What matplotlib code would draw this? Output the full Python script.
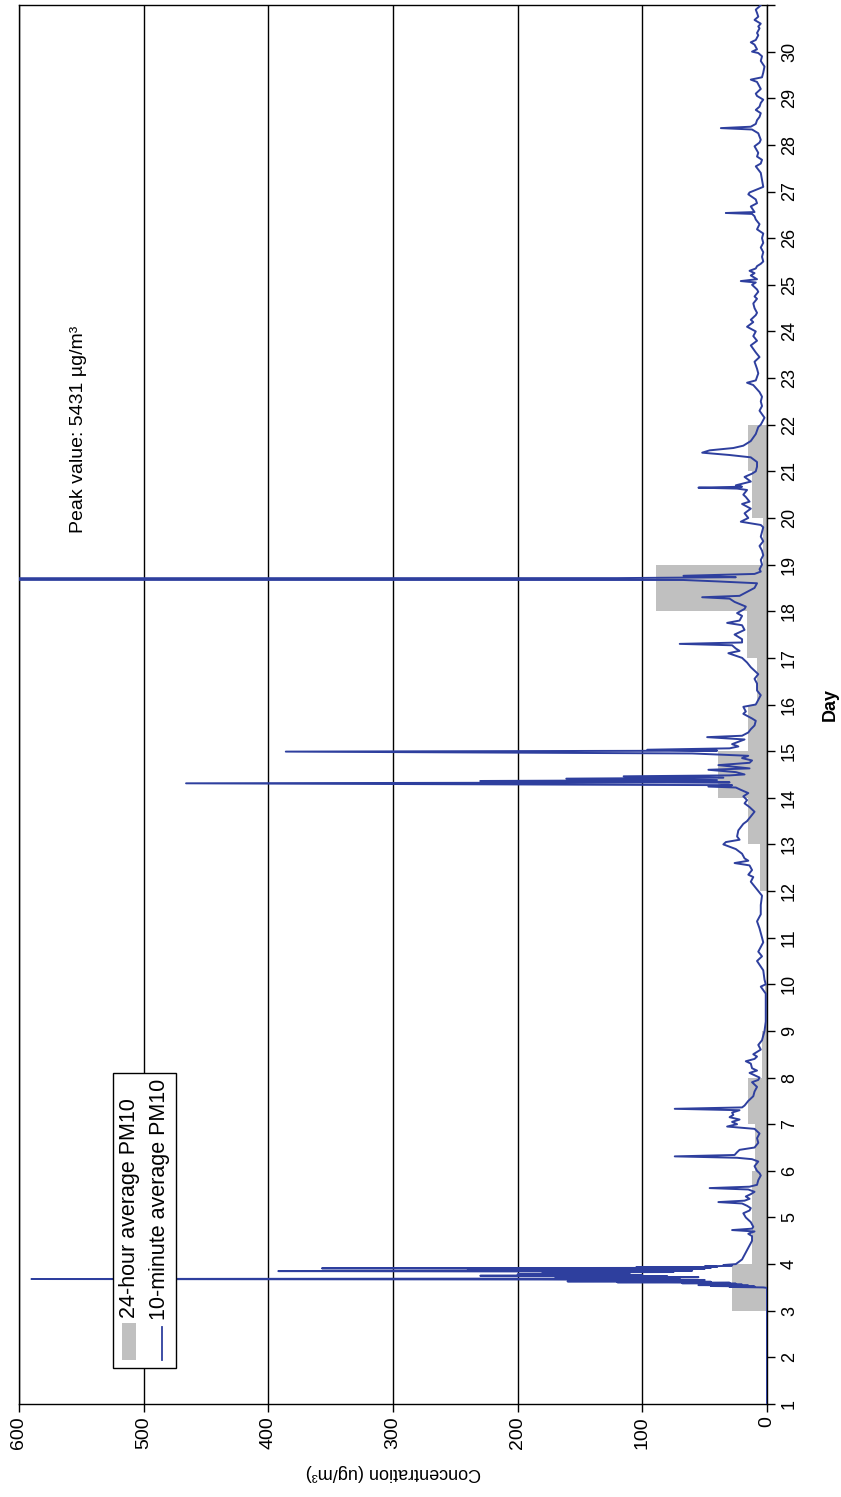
import numpy as np
import matplotlib.pyplot as plt
from matplotlib.patches import Rectangle
from matplotlib.lines import Line2D

plt.rcParams['font.family'] = ['Liberation Sans', 'DejaVu Sans']

# 10-minute PM10 readings, (day, ug/m3)
days_1_to_4 = [
    (1.0, 0), (3.49, 0), (3.50, 3), (3.51, 30), (3.52, 10), (3.53, 45), (3.54, 15),
    (3.55, 55), (3.56, 20), (3.57, 40), (3.58, 25), (3.59, 68), (3.60, 30),
    (3.61, 120), (3.62, 45), (3.63, 160), (3.64, 60), (3.65, 140), (3.66, 50),
    (3.67, 180), (3.68, 590), (3.69, 150), (3.70, 70), (3.71, 130), (3.72, 55),
    (3.73, 170), (3.74, 80), (3.75, 230), (3.76, 100), (3.77, 160), (3.78, 200),
    (3.79, 120), (3.80, 150), (3.81, 110), (3.82, 180), (3.83, 75), (3.84, 140),
    (3.85, 392), (3.86, 60), (3.87, 125), (3.88, 90), (3.89, 240), (3.90, 50),
    (3.91, 357), (3.92, 45), (3.93, 105), (3.94, 40), (3.95, 50), (3.96, 35),
    (3.97, 28), (3.98, 35), (4.00, 25),
]
days_4_to_9 = [
    (4.02, 24), (4.1, 20), (4.2, 18), (4.3, 16), (4.4, 14), (4.5, 12), (4.6, 12),
    (4.65, 15), (4.7, 10), (4.73, 28), (4.76, 12), (4.8, 11), (4.9, 13), (5.0, 17),
    (5.09, 19), (5.15, 14), (5.2, 13), (5.25, 16), (5.30, 20), (5.33, 39),
    (5.36, 18), (5.4, 14), (5.45, 17), (5.5, 13), (5.55, 10), (5.6, 15),
    (5.63, 46), (5.66, 14), (5.7, 8), (5.8, 7), (5.9, 5), (5.95, 6), (6.0, 8),
    (6.1, 10), (6.2, 7), (6.25, 12), (6.28, 24), (6.31, 74), (6.34, 26),
    (6.4, 24), (6.45, 22), (6.5, 10), (6.6, 7), (6.7, 8), (6.8, 6), (6.9, 10),
    (6.95, 32), (7.0, 24), (7.05, 28), (7.1, 22), (7.15, 30), (7.2, 27),
    (7.25, 28), (7.3, 22), (7.33, 74), (7.36, 20), (7.4, 18), (7.5, 15),
    (7.6, 11), (7.7, 10), (7.8, 8), (7.9, 12), (7.95, 7), (8.0, 6), (8.05, 10),
    (8.1, 14), (8.15, 8), (8.2, 12), (8.3, 13), (8.35, 17), (8.4, 10), (8.45, 8),
    (8.5, 11), (8.6, 5), (8.7, 7), (8.8, 4), (8.9, 3), (9.0, 2),
]
days_9_to_14 = [
    (9.2, 1), (9.5, 1), (9.8, 1), (9.95, 5), (10.0, 1), (10.1, 2), (10.3, 3),
    (10.5, 8), (10.6, 4), (10.7, 7), (10.8, 5), (10.9, 3), (11.0, 4), (11.2, 6),
    (11.35, 8), (11.5, 5), (11.7, 5), (11.9, 4), (12.0, 7), (12.1, 10),
    (12.2, 13), (12.3, 11), (12.35, 15), (12.45, 12), (12.55, 14), (12.6, 26),
    (12.65, 15), (12.7, 18), (12.8, 20), (12.9, 25), (13.0, 35), (13.05, 33),
    (13.1, 22), (13.17, 24), (13.3, 23), (13.44, 19), (13.5, 16), (13.6, 13),
    (13.7, 10), (13.8, 14), (13.88, 18), (13.95, 16), (14.03, 19), (14.1, 15),
    (14.17, 21), (14.22, 25),
]
days_14_to_19 = [
    (14.24, 47), (14.27, 28), (14.31, 466), (14.33, 30), (14.36, 230),
    (14.38, 40), (14.41, 161), (14.43, 35), (14.46, 115), (14.48, 30),
    (14.5, 18), (14.55, 25), (14.6, 47), (14.63, 14), (14.7, 39), (14.75, 14),
    (14.8, 12), (14.85, 20), (14.9, 15), (14.95, 60), (14.99, 386), (15.01, 40),
    (15.03, 96), (15.06, 30), (15.1, 23), (15.15, 28), (15.2, 23), (15.25, 18),
    (15.3, 48), (15.33, 20), (15.4, 15), (15.47, 13), (15.55, 10), (15.65, 9),
    (15.7, 12), (15.8, 19), (15.85, 17), (15.95, 19), (16.0, 9), (16.1, 7),
    (16.2, 5), (16.3, 8), (16.45, 8), (16.55, 10), (16.65, 7), (16.8, 13),
    (16.9, 16), (17.0, 20), (17.1, 31), (17.15, 22), (17.2, 25), (17.27, 28),
    (17.3, 70), (17.33, 20), (17.4, 20), (17.5, 26), (17.6, 18), (17.7, 20),
    (17.75, 32), (17.8, 22), (17.9, 20), (17.96, 24), (18.05, 18), (18.1, 17),
    (18.2, 26), (18.27, 30), (18.3, 52), (18.33, 22), (18.4, 17), (18.5, 10),
    (18.6, 8), (18.64, 40), (18.67, 67), (18.69, 5431), (18.71, 120),
    (18.73, 25), (18.76, 67), (18.8, 10), (18.85, 5), (18.9, 6),
]
days_19_to_25 = [
    (19.0, 4), (19.1, 5), (19.2, 3), (19.3, 4), (19.4, 6), (19.5, 3), (19.6, 5),
    (19.7, 4), (19.8, 3), (19.85, 5), (19.92, 21), (20.0, 15), (20.1, 18),
    (20.2, 13), (20.3, 20), (20.35, 14), (20.45, 17), (20.5, 19), (20.6, 16),
    (20.63, 24), (20.65, 55), (20.67, 20), (20.7, 25), (20.78, 13), (20.88, 18),
    (20.95, 12), (21.0, 9), (21.1, 8), (21.2, 8), (21.3, 13), (21.35, 30),
    (21.4, 52), (21.45, 46), (21.5, 27), (21.55, 19), (21.65, 13), (21.8, 9),
    (21.95, 7), (22.0, 5), (22.15, 2), (22.3, 6), (22.4, 4), (22.5, 5),
    (22.6, 4), (22.7, 6), (22.85, 11), (22.9, 16), (22.95, 9), (23.1, 7),
    (23.2, 8), (23.35, 10), (23.45, 6), (23.55, 9), (23.7, 13), (23.8, 8),
    (23.9, 11), (24.0, 9), (24.1, 16), (24.2, 11), (24.25, 13), (24.35, 9),
    (24.4, 8), (24.5, 10), (24.6, 11), (24.7, 8), (24.75, 10), (24.85, 7),
    (24.9, 8),
]
days_25_to_31 = [
    (25.0, 12), (25.05, 9), (25.08, 21), (25.12, 8), (25.2, 13), (25.25, 10),
    (25.3, 14), (25.35, 9), (25.4, 8), (25.45, 5), (25.5, 3), (25.6, 4),
    (25.7, 3), (25.8, 5), (25.9, 3), (26.0, 4), (26.1, 3), (26.19, 8),
    (26.3, 6), (26.4, 9), (26.47, 10), (26.52, 12), (26.54, 33), (26.56, 10),
    (26.68, 13), (26.75, 8), (26.83, 9), (26.94, 15), (26.98, 14), (27.1, 3),
    (27.25, 4), (27.4, 5), (27.54, 9), (27.6, 5), (27.68, 4), (27.75, 8),
    (27.83, 7), (27.97, 10), (28.05, 6), (28.11, 5), (28.25, 7), (28.33, 12),
    (28.36, 37), (28.39, 13), (28.45, 9), (28.53, 8), (28.6, 6), (28.68, 5),
    (28.75, 9), (28.82, 6), (28.9, 5), (28.97, 3), (29.05, 8), (29.1, 9),
    (29.2, 5), (29.25, 6), (29.35, 8), (29.4, 13), (29.45, 4), (29.55, 3),
    (29.68, 2), (29.8, 5), (29.9, 4), (29.97, 7), (30.0, 12), (30.05, 8),
    (30.15, 10), (30.2, 13), (30.25, 9), (30.35, 7), (30.4, 8), (30.5, 6),
    (30.54, 7), (30.6, 5), (30.68, 10), (30.75, 7), (30.83, 8), (30.9, 9),
    (30.97, 6), (31.0, 5),
]

# 24-hour averages: bar starts at the given day and spans one day
avg_start_day = [3, 4, 5, 6, 7, 8, 9, 12, 13, 14, 15, 16, 17, 18, 19, 20, 21]
avg_pm10 = [28, 12, 12, 10, 15, 4, 2, 6, 15, 39, 15, 8, 16, 89, 3, 12, 15]

conc_ticks = [0, 100, 200, 300, 400, 500, 600]
day_ticks = list(range(1, 32))
day_labels = [str(d) for d in range(1, 31)] + ['']

readings = days_1_to_4 + days_4_to_9 + days_9_to_14 + days_14_to_19 + days_19_to_25 + days_25_to_31
t = np.array([r[0] for r in readings])
pm = np.array([r[1] for r in readings])

W, H = 841, 1497
fig = plt.figure(figsize=(W / 100, H / 100), dpi=100)
# chart is drawn turned on its side: concentration runs right-to-left, days bottom-to-top
ax = fig.add_axes([19 / W, 93 / H, 748 / W, 1399 / H])

ax.barh(avg_start_day, avg_pm10, height=1, align='edge', color='#c0c0c0', zorder=1)
ax.plot(pm, t, color='#2e3f9e', lw=1.4, zorder=3)

ax.set_xlim(600, 0)
ax.set_ylim(1, 31)
ax.set_xticks(conc_ticks)
ax.set_yticks(day_ticks)
ax.set_yticklabels(day_labels)
ax.yaxis.tick_right()
ax.xaxis.grid(True, color='black', lw=1, zorder=2)
ax.set_axisbelow(False)

ax.tick_params(axis='x', labelrotation=90, labelsize=14, length=6, width=1, direction='out', pad=3)
ax.tick_params(axis='y', labelrotation=90, labelsize=13, length=6, width=1, direction='out', pad=4)
for lab in ax.get_yticklabels():
    lab.set_verticalalignment('center')
for s in ax.spines.values():
    s.set_linewidth(1)
    s.set_color('black')

ax.set_xlabel('Concentration (ug/m³)', rotation=180, fontsize=13)
ax.xaxis.set_label_coords(0.5, -0.043)
ax.yaxis.set_label_position('right')
ax.set_ylabel('Day', rotation=90, fontsize=13, fontweight='bold')
ax.yaxis.label.set_horizontalalignment('center')
ax.yaxis.label.set_verticalalignment('center')
ax.yaxis.set_label_coords(1.084, 0.5)

ax.text(552, 21.9, 'Peak value: 5431 µg/m³', rotation=90, ha='center', va='center', fontsize=14)

# legend box drawn by hand so it can sit rotated like the rest of the chart
def fx(px):
    return (px - 19) / 748

def fy(py):
    return (1404 - py) / 1399

ax.add_patch(Rectangle((fx(113), fy(1368)), fx(176) - fx(113), fy(1073) - fy(1368),
                       transform=ax.transAxes, facecolor='white', edgecolor='black',
                       lw=1, zorder=5))
ax.add_patch(Rectangle((fx(122), fy(1360)), fx(136) - fx(122), fy(1323) - fy(1360),
                       transform=ax.transAxes, facecolor='#c0c0c0', edgecolor='none', zorder=6))
ax.add_line(Line2D([fx(162), fx(162)], [fy(1360), fy(1327)], transform=ax.transAxes,
                   color='#2e3f9e', lw=1.3, zorder=6))
ax.text(fx(129.5), fy(1318), '24-hour average PM10', rotation=90, ha='center', va='bottom',
        transform=ax.transAxes, fontsize=15.5, zorder=7)
ax.text(fx(160), fy(1320), '10-minute average PM10', rotation=90, ha='center', va='bottom',
        transform=ax.transAxes, fontsize=15.5, zorder=7)

fig.savefig('out.png', dpi=100)
